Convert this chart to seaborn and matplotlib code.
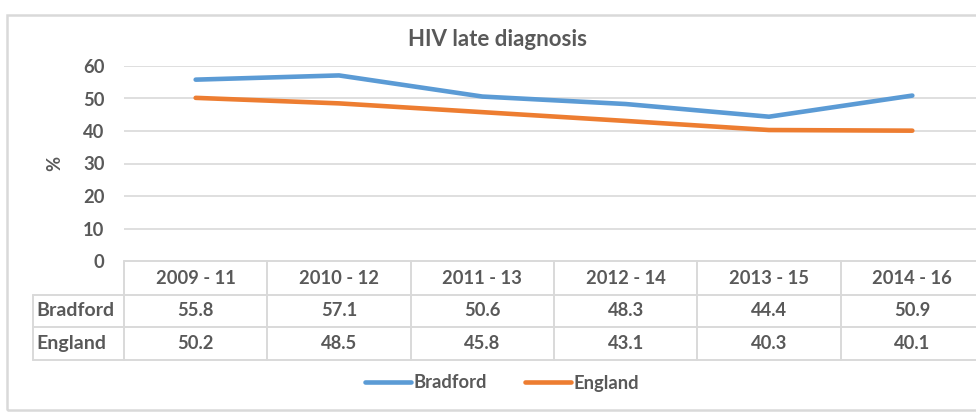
import matplotlib
matplotlib.use("Agg")
import matplotlib.pyplot as plt
import matplotlib.transforms as mtransforms
from matplotlib.patches import Rectangle
from matplotlib.lines import Line2D
import seaborn as sns
import pandas as pd

periods = ["2009 - 11", "2010 - 12", "2011 - 13", "2012 - 14", "2013 - 15", "2014 - 16"]
bradford = [55.8, 57.1, 50.6, 48.3, 44.4, 50.9]
england = [50.2, 48.5, 45.8, 43.1, 40.3, 40.1]
series_names = ["Bradford", "England"]
yticks = [0, 10, 20, 30, 40, 50, 60]
title = "HIV late diagnosis"
ylabel = "%"

colors = {"Bradford": "#5B9BD5", "England": "#ED7D31"}
text_col = "#595959"
grid_col = "#D9D9D9"

df = pd.DataFrame({
    "period": periods * 2,
    "value": bradford + england,
    "series": [series_names[0]] * len(periods) + [series_names[1]] * len(periods),
})

sns.set_theme(style="white")
plt.rcParams["font.family"] = ["Lato", "DejaVu Sans"]

W, H = 976, 412
fig = plt.figure(figsize=(W / 100, H / 100), dpi=100)
fx = lambda px: px / W
fy = lambda py: 1 - py / H

FS = 13.2
ax_l, ax_r, ax_t, ax_b = 124, 984, 66, 261
ax = fig.add_axes([fx(ax_l), fy(ax_b), fx(ax_r) - fx(ax_l), fy(ax_t) - fy(ax_b)])

sns.lineplot(data=df, x="period", y="value", hue="series", palette=colors,
             linewidth=3.3, sort=False, ax=ax, legend=False)

ax.set_xlim(-0.5, len(periods) - 0.5)
ax.set_ylim(0, 60)
ax.set_yticks(yticks)
ax.set_yticklabels([str(t) for t in yticks], fontsize=FS, fontweight="bold", color=text_col)
ax.tick_params(axis="y", length=0, pad=14)
ax.set_xticks([])
ax.set_xlabel("")
ax.set_ylabel("")
fig.text(fx(55), fy(163), ylabel, rotation=90, ha="center", va="center",
         fontsize=FS, fontweight="bold", color=text_col)
for s in ax.spines.values():
    s.set_visible(False)
for t in yticks[1:]:
    ax.axhline(t, color=grid_col, lw=1.2, zorder=0)

# outer chart border
fig.patches.append(Rectangle((fx(7), fy(410)), fx(995) - fx(7), fy(15) - fy(410),
                             transform=fig.transFigure, fill=False,
                             edgecolor="#D9D9D9", lw=1.8))

fig.text(fx(497), fy(40), title, ha="center", va="center", fontsize=16,
         fontweight="bold", color=text_col)

# data table
trans = mtransforms.blended_transform_factory(ax.transData, fig.transFigure)
row_y = [261, 295, 327, 360]
lbl_l = 33
tab_kw = dict(color=grid_col, lw=1.4, clip_on=False)
fig.add_artist(Line2D([fx(ax_l), fx(ax_r)], [fy(row_y[0])] * 2, transform=fig.transFigure, **tab_kw))
for yy in row_y[1:]:
    fig.add_artist(Line2D([fx(lbl_l), fx(ax_r)], [fy(yy)] * 2, transform=fig.transFigure, **tab_kw))
fig.add_artist(Line2D([fx(lbl_l)] * 2, [fy(row_y[1]), fy(row_y[3])], transform=fig.transFigure, **tab_kw))
for i in range(len(periods) + 1):
    xb = i - 0.5
    fig.add_artist(Line2D([xb, xb], [fy(row_y[0]), fy(row_y[3])], transform=trans, **tab_kw))

txt_kw = dict(ha="center", va="center", fontsize=FS, fontweight="bold", color=text_col, transform=trans)
for i, p in enumerate(periods):
    fig.text(i, fy((row_y[0] + row_y[1]) / 2), p, **txt_kw)
    fig.text(i, fy((row_y[1] + row_y[2]) / 2), f"{bradford[i]:.1f}", **txt_kw)
    fig.text(i, fy((row_y[2] + row_y[3]) / 2), f"{england[i]:.1f}", **txt_kw)
for name, r in zip(series_names, [1, 2]):
    fig.text(fx(lbl_l + 3), fy((row_y[r] + row_y[r + 1]) / 2), name, ha="left", va="center",
             fontsize=FS + 0.8, fontweight="bold", color=text_col)

# legend
handles = [Line2D([], [], color=colors[n], lw=3.3) for n in series_names]
leg = fig.legend(handles, series_names, loc="center", bbox_to_anchor=(fx(502), fy(383)),
                 ncol=2, frameon=False, handlelength=2.5, handletextpad=0.12,
                 columnspacing=2.1, prop={"size": FS, "weight": "bold"})
for t in leg.get_texts():
    t.set_color(text_col)

fig.savefig("out.png", dpi=100)
